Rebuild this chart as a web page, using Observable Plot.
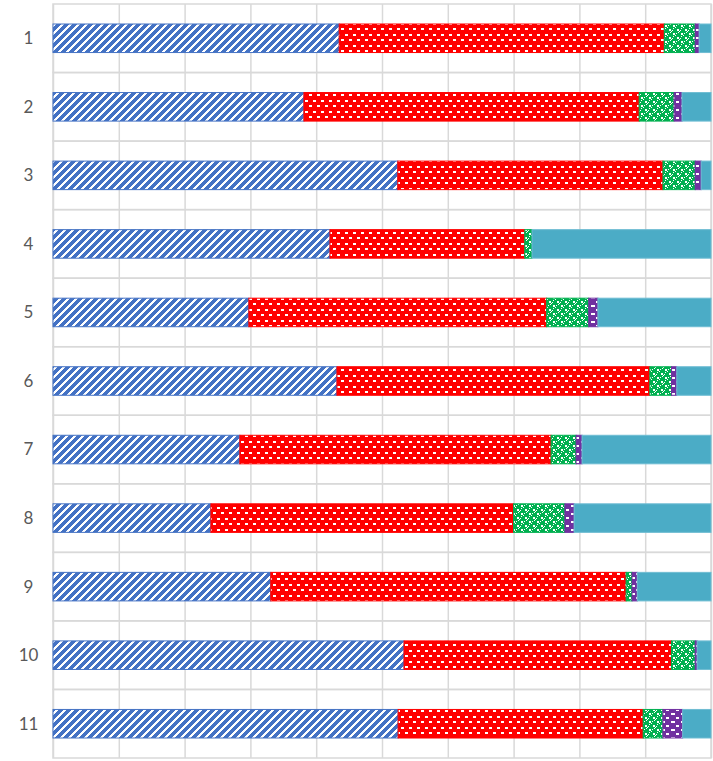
<!DOCTYPE html>
<html>
<head>
<meta charset="utf-8">
<script src="https://cdn.jsdelivr.net/npm/d3@7"></script>
<script src="https://cdn.jsdelivr.net/npm/@observablehq/plot@0.6"></script>
<style>
  body { margin: 0; background: #fff; }
  #chart svg { display: block; }
</style>
</head>
<body>
<div id="chart"></div>
<script>
// Categories (rows) and series values (percent of each row)
const categories = ["1","2","3","4","5","6","7","8","9","10","11"];
const seriesNames = ["Series1","Series2","Series3","Series4","Series5"];
const series1 = [43.5, 38.1, 52.4, 42.1, 29.8, 43.2, 28.4, 24.0, 33.1, 53.3, 52.4];
const series2 = [49.4, 50.9, 40.3, 29.6, 45.3, 47.6, 47.3, 46.0, 54.0, 40.6, 37.2];
const series3 = [4.7, 5.3, 4.9, 1.1, 6.4, 3.3, 3.8, 7.8, 0.9, 3.6, 3.0];
const series4 = [0.6, 1.2, 0.9, 0.0, 1.4, 0.8, 0.9, 1.4, 0.8, 0.3, 3.0];
const series5 = [1.8, 4.4, 1.5, 27.2, 17.2, 5.2, 19.6, 20.8, 11.2, 2.1, 4.3];
const allSeries = [series1, series2, series3, series4, series5];
const gridTicks = [0, 0.1, 0.2, 0.3, 0.4, 0.5, 0.6, 0.7, 0.8, 0.9, 1];

// styles
const fills = ["url(#pBlue)", "url(#pRed)", "url(#pGreen)", "url(#pPurple)", "#4BACC6"];
const strokes = ["#4472C4", "#FF0000", "#00B050", "#7030A0", "#6FBDD3"];

const table = [];
categories.forEach((c, i) => {
  allSeries.forEach((s, j) => {
    table.push({category: c, series: seriesNames[j], idx: j, value: s[i]});
  });
});

const plot = Plot.plot({
  width: 713,
  height: 761,
  marginLeft: 53,
  marginRight: 2,
  marginTop: 4,
  marginBottom: 3,
  style: {fontFamily: "Lato, 'Open Sans', sans-serif", fontSize: "17px", color: "#595959", background: "#fff"},
  x: {domain: [0, 1], axis: null},
  y: {domain: categories, padding: 0, round: false, label: null},
  color: {type: "identity"},
  marks: [
    Plot.ruleX(gridTicks, {x: d => d, stroke: "#d9d9d9", strokeWidth: 1.5}),
    Plot.barX(categories, {y: d => d, x1: 0, x2: 1, fill: "none", stroke: "#d9d9d9", strokeWidth: 1.5}),
    Plot.barX(table, Plot.stackX({
      y: "category",
      x: "value",
      offset: "normalize",
      fill: d => fills[d.idx],
      stroke: d => strokes[d.idx],
      strokeWidth: 1,
      insetTop: 20,
      insetBottom: 20
    })),
    Plot.axisY({tickSize: 0, tickPadding: 25, textAnchor: "middle", fill: "#595959", fontSize: 17, fontWeight: 400, label: null})
  ]
});

// patterns
const svg = d3.select(plot);
const defs = svg.insert("defs", ":first-child");

function pattern(id, w, h, bg, fg, rects) {
  const p = defs.append("pattern").attr("id", id).attr("patternUnits", "userSpaceOnUse")
    .attr("width", w).attr("height", h);
  p.append("rect").attr("width", w).attr("height", h).attr("fill", bg);
  rects.forEach(([x, y, rw, rh]) => {
    p.append("rect").attr("x", x).attr("y", y).attr("width", rw).attr("height", rh).attr("fill", fg);
  });
}

// blue: wide upward diagonal (blue on white)
const blueRects = [];
for (let r = 0; r < 8; r++) {
  for (let x = 0; x < 8; x++) {
    if (((x + r) % 8) < 5) blueRects.push([x, r, 1, 1]);
  }
}
pattern("pBlue", 8, 8, "#ffffff", "#4472C4", blueRects);

// red: small white dashes on red
pattern("pRed", 16, 11, "#FF0000", "#ffffff", [[1, 1, 3, 2], [9, 1, 3, 2], [5, 6, 3, 2], [13, 6, 3, 2]]);

// green: weave of white blocks
pattern("pGreen", 8, 8, "#00B050", "#ffffff", [[1, 1, 2, 2], [5, 5, 2, 2], [4, 1, 1, 1], [1, 4, 1, 1], [0, 6, 1, 1], [6, 0, 1, 1], [3, 3, 1, 1], [7, 7, 1, 1]]);

// purple: white dashes on purple
pattern("pPurple", 10, 8, "#7030A0", "#ffffff", [[1, 1, 4, 2], [6, 5, 3, 2]]);

document.getElementById("chart").appendChild(plot);
</script>
</body>
</html>
